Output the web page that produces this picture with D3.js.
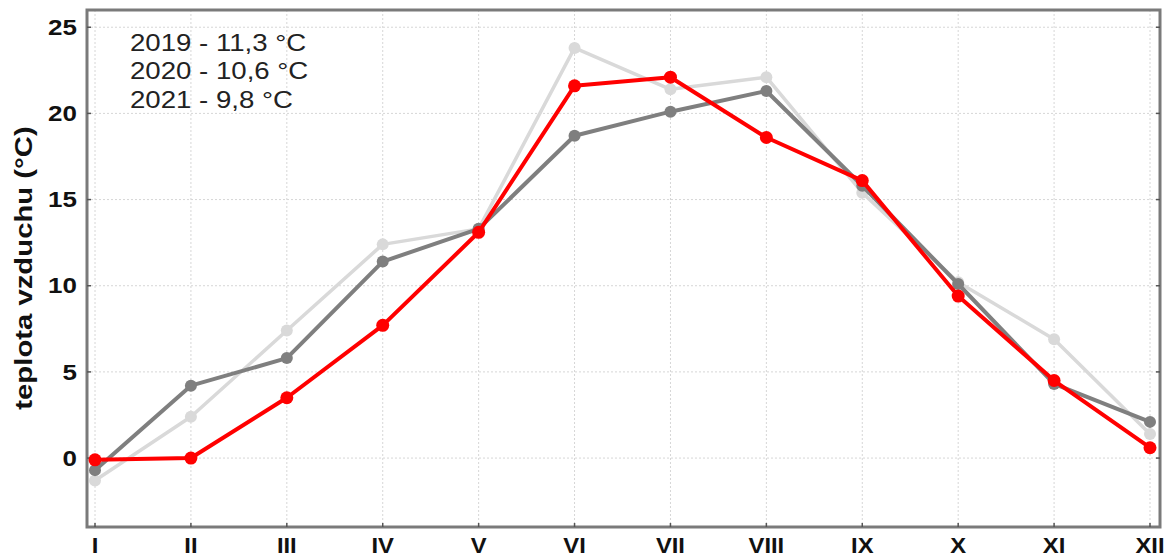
<!DOCTYPE html>
<html>
<head>
<meta charset="utf-8">
<script src="https://cdn.jsdelivr.net/npm/d3@7/dist/d3.min.js"></script>
<style>
  html, body { margin: 0; padding: 0; background: #fff; }
  svg { display: block; }
  text { font-family: "Liberation Sans", Arial, sans-serif; }
</style>
</head>
<body>
<svg id="chart" width="1168" height="559"></svg>
<script>
const months = ["I","II","III","IV","V","VI","VII","VIII","IX","X","XI","XII"];
const yTicks = [0, 5, 10, 15, 20, 25];
const t2019 = [-1.3, 2.4, 7.4, 12.4, 13.3, 23.8, 21.4, 22.1, 15.4, 10.2, 6.9, 1.4];
const t2020 = [-0.7, 4.2, 5.8, 11.4, 13.3, 18.7, 20.1, 21.3, 15.8, 10.1, 4.3, 2.1];
const t2021 = [-0.1, 0.0, 3.5, 7.7, 13.1, 21.6, 22.1, 18.6, 16.1, 9.4, 4.5, 0.6];
const annotations = ["2019 - 11,3 °C", "2020 - 10,6 °C", "2021 - 9,8 °C"];
const yLabel = "teplota vzduchu (°C)";

const series = [
  { values: t2019, color: "#d9d9d9", width: 3.5, r: 6 },
  { values: t2020, color: "#7f7f7f", width: 4, r: 6 },
  { values: t2021, color: "#ff0000", width: 4, r: 6.5 }
];

const svg = d3.select("#chart");
const frame = { left: 87, right: 1160, top: 10, bottom: 527 };

const x = d3.scaleLinear().domain([0, months.length - 1]).range([95, 1150]);
const y = d3.scaleLinear().domain([-4, 26]).range([frame.bottom, frame.top]);

function stretch(sel, f) {
  sel.each(function () {
    const w = this.getComputedTextLength();
    d3.select(this).attr("textLength", w * f).attr("lengthAdjust", "spacingAndGlyphs");
  });
}

// grid
const grid = svg.append("g");
grid.selectAll("line.v").data(months).enter().append("line")
  .attr("x1", (d, i) => x(i)).attr("x2", (d, i) => x(i))
  .attr("y1", frame.top).attr("y2", frame.bottom)
  .attr("stroke", "#d6d6d6").attr("stroke-width", 1).attr("stroke-dasharray", "2,2");
grid.selectAll("line.h").data(yTicks).enter().append("line")
  .attr("x1", frame.left).attr("x2", frame.right)
  .attr("y1", d => y(d)).attr("y2", d => y(d))
  .attr("stroke", "#d6d6d6").attr("stroke-width", 1).attr("stroke-dasharray", "2,2");

// frame
svg.append("rect")
  .attr("x", frame.left).attr("y", frame.top)
  .attr("width", frame.right - frame.left).attr("height", frame.bottom - frame.top)
  .attr("fill", "none").attr("stroke", "#7a7a7a").attr("stroke-width", 3);

// ticks (inward)
const ticks = svg.append("g").attr("stroke", "#555").attr("stroke-width", 1.5);
ticks.selectAll("line.l").data(yTicks).enter().append("line")
  .attr("x1", frame.left).attr("x2", frame.left + 4)
  .attr("y1", d => y(d)).attr("y2", d => y(d));
ticks.selectAll("line.r").data(yTicks).enter().append("line")
  .attr("x1", frame.right).attr("x2", frame.right - 4)
  .attr("y1", d => y(d)).attr("y2", d => y(d));
ticks.selectAll("line.b").data(months).enter().append("line")
  .attr("x1", (d, i) => x(i)).attr("x2", (d, i) => x(i))
  .attr("y1", frame.bottom).attr("y2", frame.bottom - 4);

// y tick labels
const yl = svg.append("g").selectAll("text").data(yTicks).enter().append("text")
  .attr("x", 77).attr("y", d => y(d)).attr("dy", "0.35em")
  .attr("text-anchor", "end").attr("font-size", 22).attr("font-weight", "bold")
  .attr("fill", "#111").text(d => d);
stretch(yl, 1.18);

// x tick labels
const xl = svg.append("g").selectAll("text").data(months).enter().append("text")
  .attr("x", (d, i) => x(i)).attr("y", 553)
  .attr("text-anchor", "middle").attr("font-size", 22).attr("font-weight", "bold")
  .attr("fill", "#111").text(d => d);
stretch(xl, 1.08);

// y axis label
const yt = svg.append("text")
  .attr("transform", "translate(32,268) rotate(-90)")
  .attr("text-anchor", "middle").attr("font-size", 24).attr("font-weight", "bold")
  .attr("fill", "#111").text(yLabel);
stretch(yt, 1.22);

// annotations
const an = svg.append("g").selectAll("text").data(annotations).enter().append("text")
  .attr("x", 130).attr("y", (d, i) => 50.5 + i * 28.7)
  .attr("font-size", 23).attr("fill", "#222").text(d => d);
stretch(an, 1.2);

// series
const line = d3.line().x((d, i) => x(i)).y(d => y(d));
series.forEach(s => {
  const g = svg.append("g");
  g.append("path").datum(s.values)
    .attr("d", line).attr("fill", "none")
    .attr("stroke", s.color).attr("stroke-width", s.width)
    .attr("stroke-linejoin", "round");
  g.selectAll("circle").data(s.values).enter().append("circle")
    .attr("cx", (d, i) => x(i)).attr("cy", d => y(d)).attr("r", s.r)
    .attr("fill", s.color);
});
</script>
</body>
</html>
